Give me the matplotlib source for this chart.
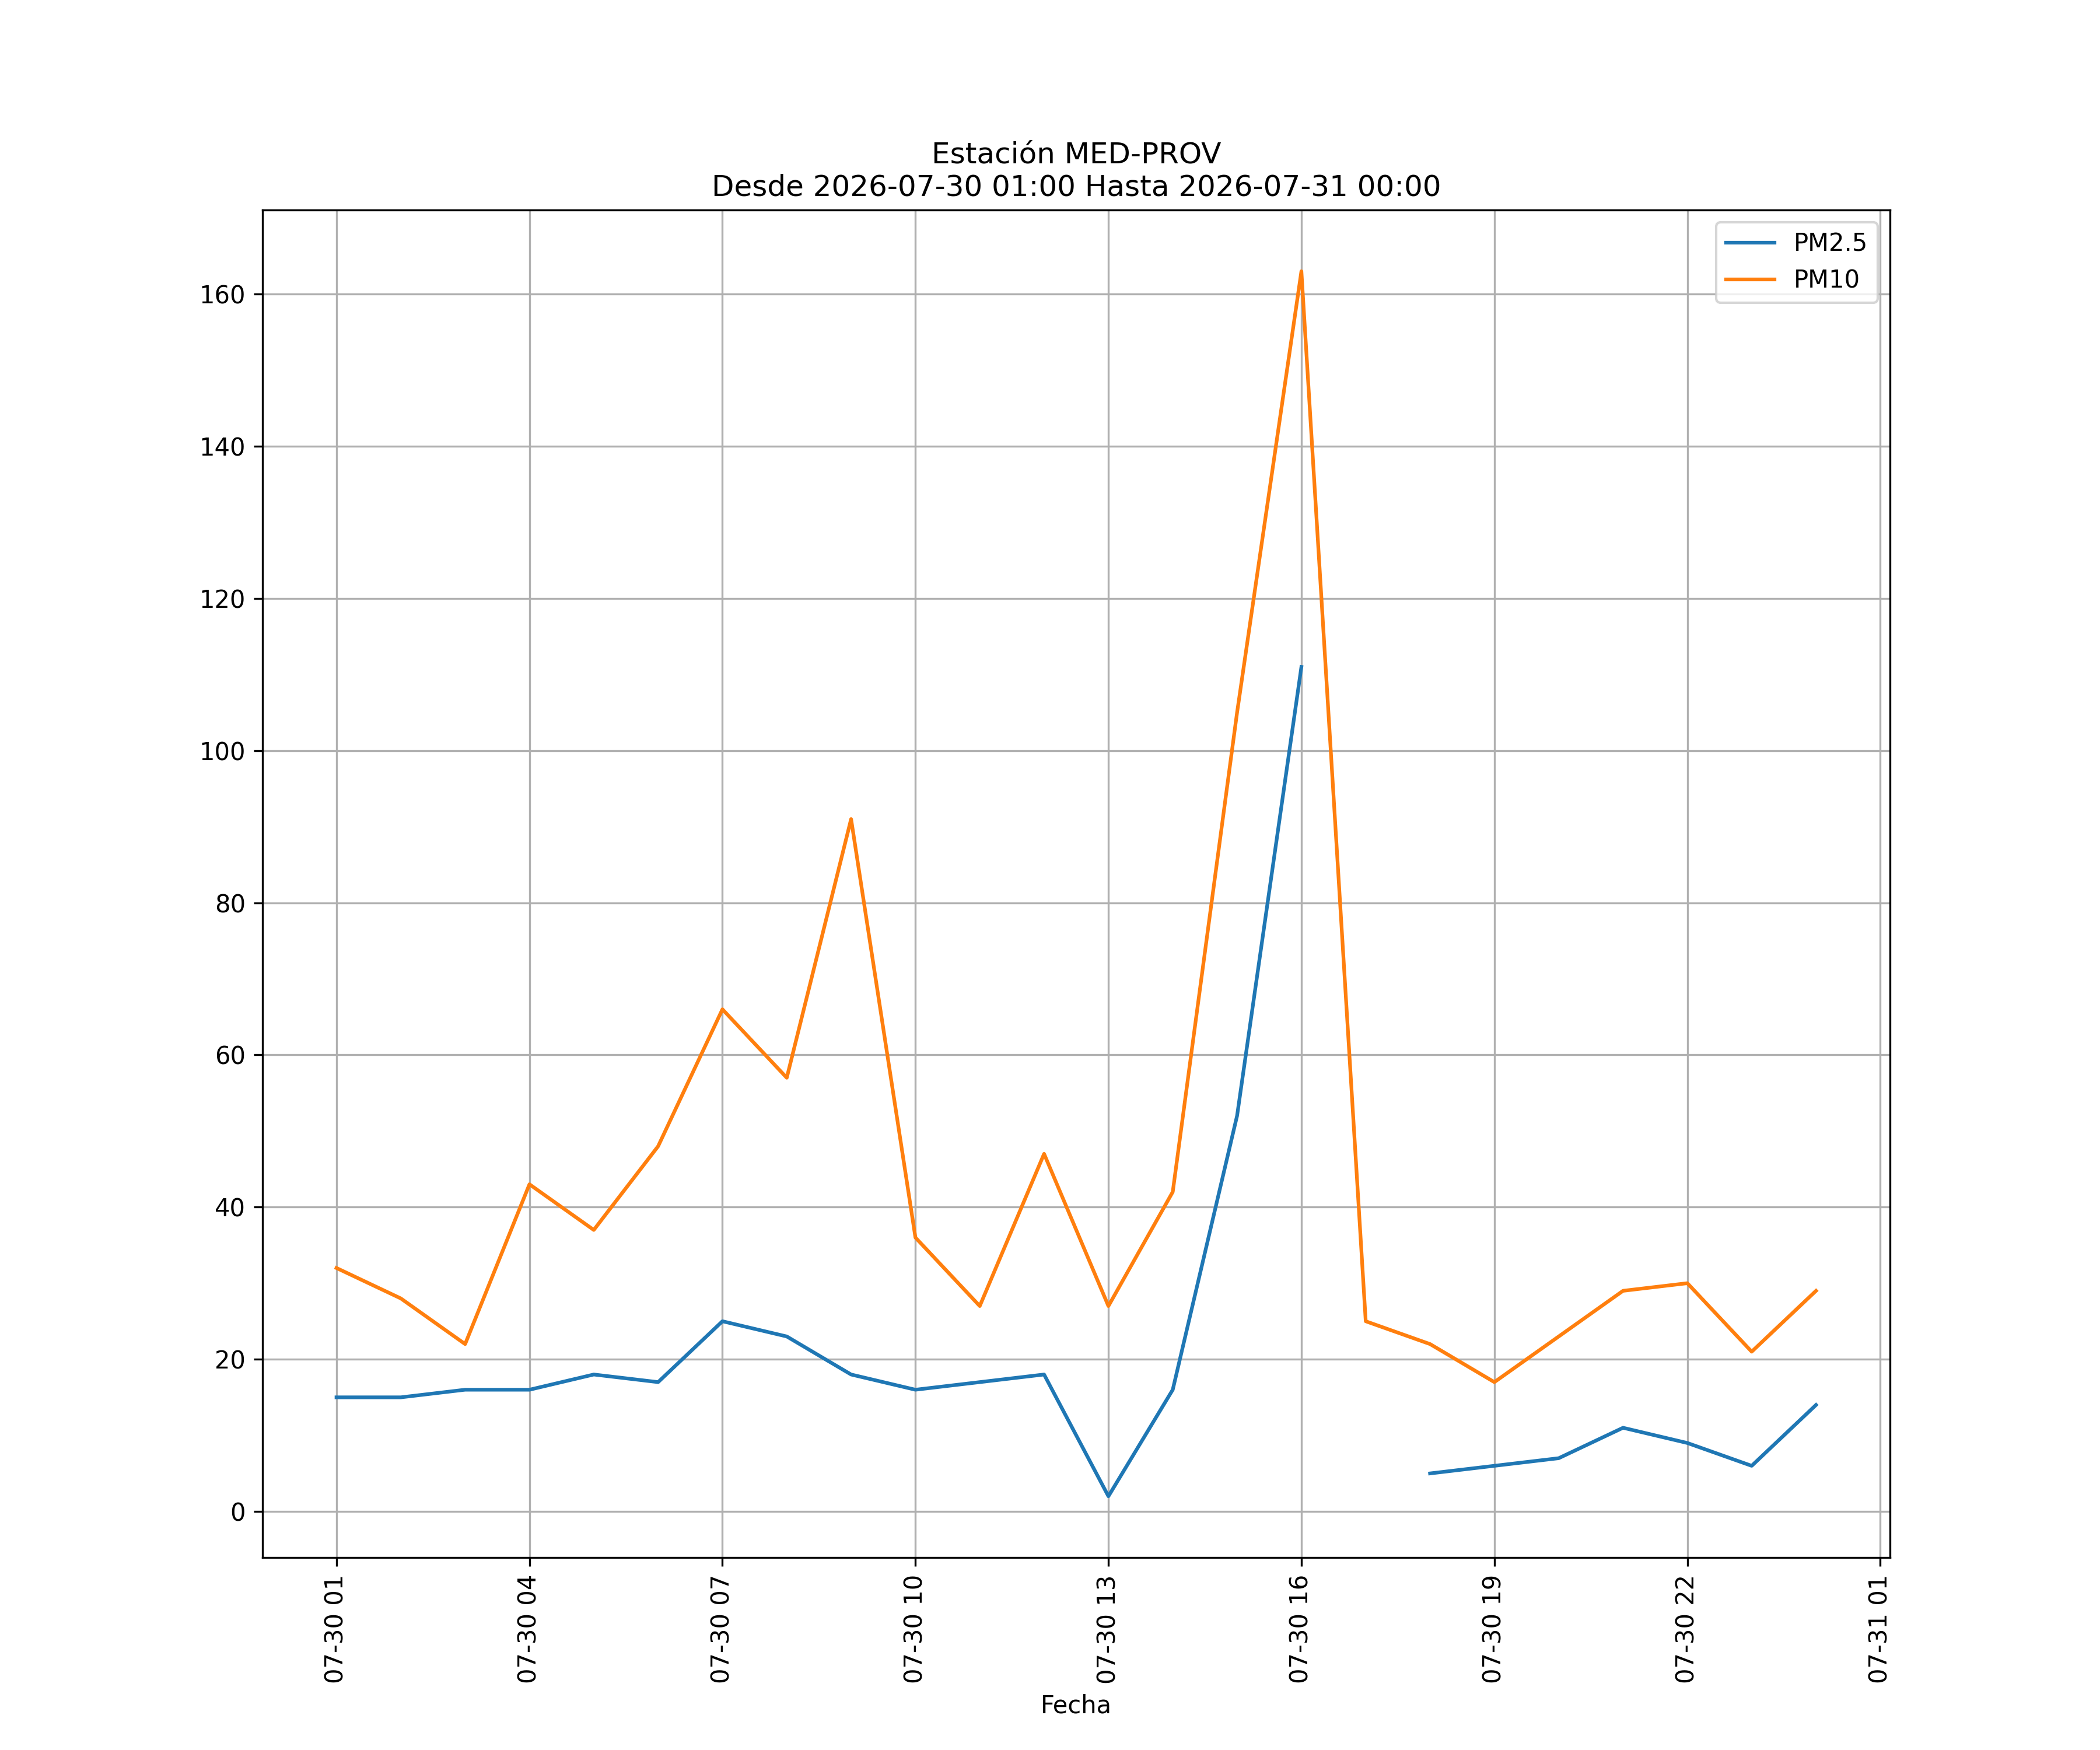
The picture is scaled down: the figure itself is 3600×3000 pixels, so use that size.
import matplotlib

matplotlib.use("Agg")
import matplotlib.dates as mdates
import matplotlib.pyplot as plt
import numpy as np
import pandas as pd

STATION = "MED-PROV"
START = "2026-07-30 01:00"
END = "2026-07-31 00:00"

fechas = pd.date_range(START, END, freq="h")

pm25 = [15, 15, 16, 16, 18, 17, 25, 23, 18, 16, 17, 18,
        2, 16, 52, 111, np.nan, 5, 6, 7, 11, 9, 6, 14]
pm10 = [32, 28, 22, 43, 37, 48, 66, 57, 91, 36, 27, 47,
        27, 42, 105, 163, 25, 22, 17, 23, 29, 30, 21, 29]

fig, ax = plt.subplots(figsize=(12, 10))
ax.plot(fechas, pm25, label="PM2.5")
ax.plot(fechas, pm10, label="PM10")

ax.xaxis.set_major_locator(mdates.HourLocator(byhour=range(1, 24, 3)))
ax.xaxis.set_major_formatter(mdates.DateFormatter("%m-%d %H"))
plt.setp(ax.get_xticklabels(), rotation=90)

ax.set_xlabel("Fecha")
ax.set_title(f"Estación {STATION}\nDesde {START} Hasta {END}")
ax.grid(True)
ax.legend(loc="upper right")

fig.savefig("out.png", dpi=300)
plt.close(fig)
